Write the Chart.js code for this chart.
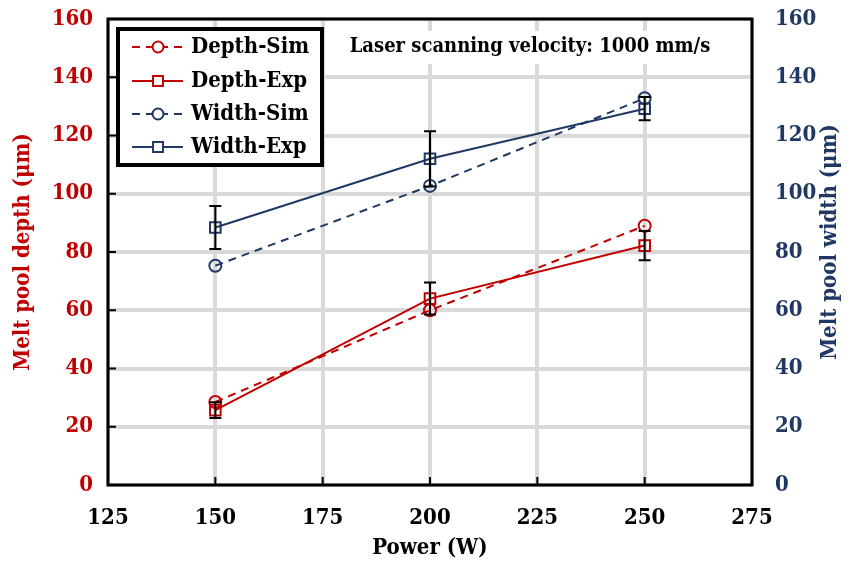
<!DOCTYPE html>
<html><head><meta charset="utf-8">
<script src="https://cdn.jsdelivr.net/npm/chart.js@4/dist/chart.umd.min.js"></script>
<style>html,body{margin:0;padding:0;background:#fff}#wrap{width:852px;height:567px;position:relative}</style>
</head><body><div id="wrap"><canvas id="c" width="852" height="567"></canvas></div>
<script>
const power = [150, 200, 250];
const depthSim = [28.5, 60, 89];
const depthExp = [25.7, 64, 82.2];
const depthExpErr = [2.7, 5.5, 5];
const widthSim = [75.3, 102.7, 132.8];
const widthExp = [88.4, 112, 129.2];
const widthExpErr = [7.4, 9.5, 4];
const xTickValues = [125, 150, 175, 200, 225, 250, 275];
const yTickValues = [0, 20, 40, 60, 80, 100, 120, 140, 160];
const seriesNames = ['Depth-Sim', 'Depth-Exp', 'Width-Sim', 'Width-Exp'];
const annotationText = 'Laser scanning velocity: 1000 mm/s';
const xTitle = 'Power (W)';
const yLeftTitle = 'Melt pool depth (μm)';
const yRightTitle = 'Melt pool width (μm)';

const RED = '#c00000', BLUE = '#1f3864', GRID = '#d9d9d9';
const FAM = "'DejaVu Serif Condensed', 'DejaVu Serif', serif";
Chart.defaults.font.family = FAM;
Chart.defaults.font.weight = 'bold';

const pts = (ys) => power.map((x, i) => ({x: x, y: ys[i]}));
const mk = (label, ys, color, dashed, style, axis) => ({
  label, data: pts(ys), yAxisID: axis,
  borderColor: color, borderWidth: 2, borderDash: dashed ? [8, 6] : [],
  pointStyle: style, pointRadius: style === 'rect' ? 7.5 : 6, pointBorderWidth: 2,
  pointBorderColor: color, pointBackgroundColor: 'rgba(0,0,0,0)', tension: 0, fill: false
});
const datasets = [
  mk(seriesNames[0], depthSim, RED, true, 'circle', 'yL'),
  mk(seriesNames[1], depthExp, RED, false, 'rect', 'yL'),
  mk(seriesNames[2], widthSim, BLUE, true, 'circle', 'yR'),
  mk(seriesNames[3], widthExp, BLUE, false, 'rect', 'yR')
];
const errors = {1: depthExpErr, 3: widthExpErr};

const fixTicks = (vals) => (scale) => { scale.ticks = vals.map(v => ({value: v})); };

const overlay = {
  id: 'overlay',
  afterDatasetsDraw(chart) {
    const ctx = chart.ctx, a = chart.chartArea;
    const sx = chart.scales.x;
    ctx.save();
    // error bars
    ctx.strokeStyle = '#000'; ctx.lineWidth = 2; ctx.setLineDash([]);
    Object.keys(errors).forEach(k => {
      const ds = chart.data.datasets[k];
      const sy = chart.scales[ds.yAxisID];
      errors[k].forEach((e, i) => {
        const x = sx.getPixelForValue(power[i]);
        const y1 = sy.getPixelForValue(ds.data[i].y + e);
        const y2 = sy.getPixelForValue(ds.data[i].y - e);
        ctx.beginPath();
        ctx.moveTo(x, y1); ctx.lineTo(x, y2);
        ctx.moveTo(x - 6, y1); ctx.lineTo(x + 6, y1);
        ctx.moveTo(x - 6, y2); ctx.lineTo(x + 6, y2);
        ctx.stroke();
      });
    });
    // inward ticks
    ctx.lineWidth = 2;
    ctx.beginPath();
    xTickValues.forEach(v => { const x = sx.getPixelForValue(v); ctx.moveTo(x, a.bottom); ctx.lineTo(x, a.bottom - 8); });
    yTickValues.forEach(v => { const y = chart.scales.yL.getPixelForValue(v); ctx.moveTo(a.left, y); ctx.lineTo(a.left + 8, y); });
    ctx.stroke();
    // frame
    ctx.lineWidth = 3;
    ctx.strokeRect(a.left, a.top, a.right - a.left, a.bottom - a.top);
    // annotation
    ctx.font = 'bold 20px ' + FAM;
    const tw = ctx.measureText(annotationText).width;
    const cx = 530, cy = 47;
    ctx.fillStyle = '#fff';
    ctx.fillRect(cx - tw / 2 - 6, cy - 16, tw + 12, 33);
    ctx.fillStyle = '#000'; ctx.textAlign = 'center'; ctx.textBaseline = 'middle';
    ctx.fillText(annotationText, cx, cy);
    // legend
    const lx = 118, ly = 29, lw = 204, lh = 136;
    ctx.fillStyle = '#fff'; ctx.fillRect(lx, ly, lw, lh);
    ctx.lineWidth = 4; ctx.strokeStyle = '#000';
    ctx.strokeRect(lx, ly, lw, lh);
    const rows = [47, 81, 114, 147];
    chart.data.datasets.forEach((ds, i) => {
      const y = rows[i];
      ctx.strokeStyle = ds.borderColor; ctx.lineWidth = 2;
      ctx.setLineDash(ds.borderDash);
      ctx.beginPath(); ctx.moveTo(132, y); ctx.lineTo(183, y); ctx.stroke();
      ctx.setLineDash([]);
      ctx.fillStyle = '#fff';
      Chart.helpers.drawPoint(ctx, {pointStyle: ds.pointStyle, radius: ds.pointStyle === 'rect' ? 7 : 5.5, borderWidth: 2}, 158, y);
      ctx.fillStyle = '#000'; ctx.textAlign = 'left'; ctx.textBaseline = 'middle';
      ctx.font = 'bold 22px ' + FAM;
      ctx.fillText(ds.label, 191, y);
    });
    // right axis title (reads bottom-to-top)
    ctx.translate(830, 242);
    ctx.rotate(-Math.PI / 2);
    ctx.fillStyle = BLUE; ctx.textAlign = 'center'; ctx.textBaseline = 'middle';
    ctx.font = 'bold 22px ' + FAM;
    ctx.fillText(yRightTitle, 0, 0);
    ctx.restore();
  }
};

new Chart(document.getElementById('c'), {
  type: 'line',
  data: {datasets},
  options: {
    responsive: false, animation: false,
    layout: {padding: {top: 19, left: 0, right: 0, bottom: 0}},
    plugins: {legend: {display: false}, tooltip: {enabled: false}},
    scales: {
      x: {
        type: 'linear', min: 125, max: 275,
        afterBuildTicks: fixTicks(xTickValues),
        afterFit: (s) => { s.height = 82; s.paddingLeft = 0; s.paddingRight = 0; },
        grid: {color: GRID, lineWidth: 4, drawTicks: false},
        border: {display: false},
        ticks: {color: '#000', font: {size: 22, weight: 'bold'}, padding: 20},
        title: {display: true, text: xTitle, color: '#000', font: {size: 22, weight: 'bold'}, padding: {top: 0, bottom: 6}}
      },
      yL: {
        position: 'left', min: 0, max: 160,
        afterBuildTicks: fixTicks(yTickValues),
        afterFit: (s) => { s.width = 108; s.paddingTop = 0; s.paddingBottom = 0; },
        grid: {color: GRID, lineWidth: 4, drawTicks: false},
        border: {display: false},
        ticks: {color: RED, font: {size: 22, weight: 'bold'}, padding: 15},
        title: {display: true, text: yLeftTitle, color: RED, font: {size: 22, weight: 'bold'}, padding: {top: 10, bottom: 0}}
      },
      yR: {
        position: 'right', min: 0, max: 160,
        afterBuildTicks: fixTicks(yTickValues),
        afterFit: (s) => { s.width = 100; s.paddingTop = 0; s.paddingBottom = 0; },
        grid: {display: false, drawTicks: false},
        border: {display: false},
        ticks: {color: BLUE, font: {size: 22, weight: 'bold'}, padding: 23},
        title: {display: false, text: yRightTitle}
      }
    }
  },
  plugins: [overlay]
});
</script></body></html>
